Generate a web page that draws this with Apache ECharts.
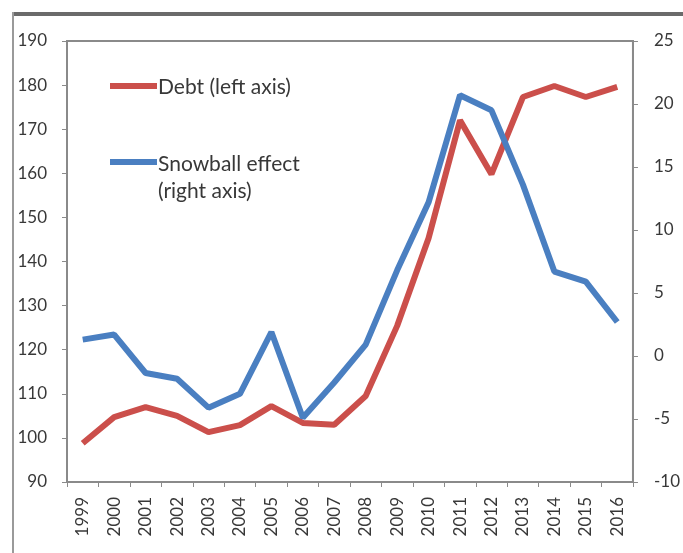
<!DOCTYPE html>
<html>
<head>
<meta charset="utf-8">
<title>Debt and snowball effect</title>
<script src="https://cdn.jsdelivr.net/npm/echarts@6/dist/echarts.min.js"></script>
<style>
  html, body { margin: 0; padding: 0; background: #fff; }
  #chart { width: 683px; height: 553px; }
</style>
</head>
<body>
<div id="chart"></div>
<script>
// Years on the category axis
const years = ['1999','2000','2001','2002','2003','2004','2005','2006','2007','2008',
               '2009','2010','2011','2012','2013','2014','2015','2016'];

// Public debt, % of GDP (left axis)
const debt = [98.8, 104.7, 107.0, 105.0, 101.3, 102.9, 107.2, 103.4, 103.0, 109.5,
              125.4, 145.3, 172.0, 159.8, 177.3, 179.8, 177.3, 179.6];

// Snowball effect, percentage points (right axis)
const snowball = [1.3, 1.7, -1.35, -1.8, -4.1, -3.0, 1.9, -4.9, -2.1, 0.9,
                  6.8, 12.2, 20.7, 19.5, 13.6, 6.7, 5.9, 2.7];

// Axis ranges and steps
const leftAxis = { min: 90, max: 190, step: 10 };
const rightAxis = { min: -10, max: 25, step: 5 };

const FONT = 'Lato, "Liberation Sans", sans-serif';
const TEXT = '#383838';
const AXIS = '#8a8a8a';
const RED = '#cb4f4b';
const BLUE = '#4a7fc1';

const chart = echarts.init(document.getElementById('chart'), null, { renderer: 'canvas' });

chart.setOption({
  animation: false,
  backgroundColor: '#ffffff',
  textStyle: { fontFamily: FONT },
  grid: {
    left: 67, right: 46, top: 41, bottom: 71,
    show: true, borderColor: AXIS, borderWidth: 2, backgroundColor: 'transparent'
  },
  xAxis: {
    type: 'category',
    data: years,
    boundaryGap: true,
    axisLine: { onZero: false, lineStyle: { color: AXIS, width: 2 } },
    axisTick: { show: true, interval: 0, length: 5, lineStyle: { color: AXIS, width: 1 } },
    axisLabel: {
      interval: 0, rotate: 90, margin: 15,
      color: TEXT, fontSize: 17, fontFamily: FONT
    },
    splitLine: { show: false }
  },
  yAxis: [
    {
      type: 'value', position: 'left',
      min: leftAxis.min, max: leftAxis.max, interval: leftAxis.step,
      axisLine: { show: true, lineStyle: { color: AXIS, width: 2 } },
      axisTick: { show: true, length: 5, lineStyle: { color: AXIS, width: 1 } },
      axisLabel: { margin: 20, color: TEXT, fontSize: 17, fontFamily: FONT },
      splitLine: { show: false }
    },
    {
      type: 'value', position: 'right',
      min: rightAxis.min, max: rightAxis.max, interval: rightAxis.step,
      axisLine: { show: true, lineStyle: { color: AXIS, width: 2 } },
      axisTick: { show: true, length: 5, lineStyle: { color: AXIS, width: 1 } },
      axisLabel: { margin: 21, color: TEXT, fontSize: 17, fontFamily: FONT },
      splitLine: { show: false }
    }
  ],
  series: [
    {
      name: 'Debt (left axis)', type: 'line', yAxisIndex: 0,
      data: debt, symbol: 'none', smooth: false,
      lineStyle: { color: RED, width: 6 }, z: 3
    },
    {
      name: 'Snowball effect (right axis)', type: 'line', yAxisIndex: 1,
      data: snowball, symbol: 'none', smooth: false,
      lineStyle: { color: BLUE, width: 6 }, z: 4
    }
  ],
  graphic: [
    // outer frame: heavy top rule and thin left rule
    { type: 'rect', shape: { x: 12, y: 12, width: 700, height: 4 }, style: { fill: '#6b6b6b' }, silent: true },
    { type: 'rect', shape: { x: 12, y: 12, width: 2, height: 560 }, style: { fill: '#9a9a9a' }, silent: true },
    // legend
    { type: 'rect', shape: { x: 110, y: 83, width: 47, height: 6 }, style: { fill: RED } },
    { type: 'text', x: 158, y: 87, style: { text: 'Debt (left axis)', font: '21px ' + FONT, fill: TEXT, verticalAlign: 'middle' } },
    { type: 'rect', shape: { x: 110, y: 159, width: 47, height: 6 }, style: { fill: BLUE } },
    { type: 'text', x: 158, y: 164, style: { text: 'Snowball effect', font: '21px ' + FONT, fill: TEXT, verticalAlign: 'middle' } },
    { type: 'text', x: 158, y: 191, style: { text: '(right axis)', font: '21px ' + FONT, fill: TEXT, verticalAlign: 'middle' } }
  ]
});
</script>
</body>
</html>
